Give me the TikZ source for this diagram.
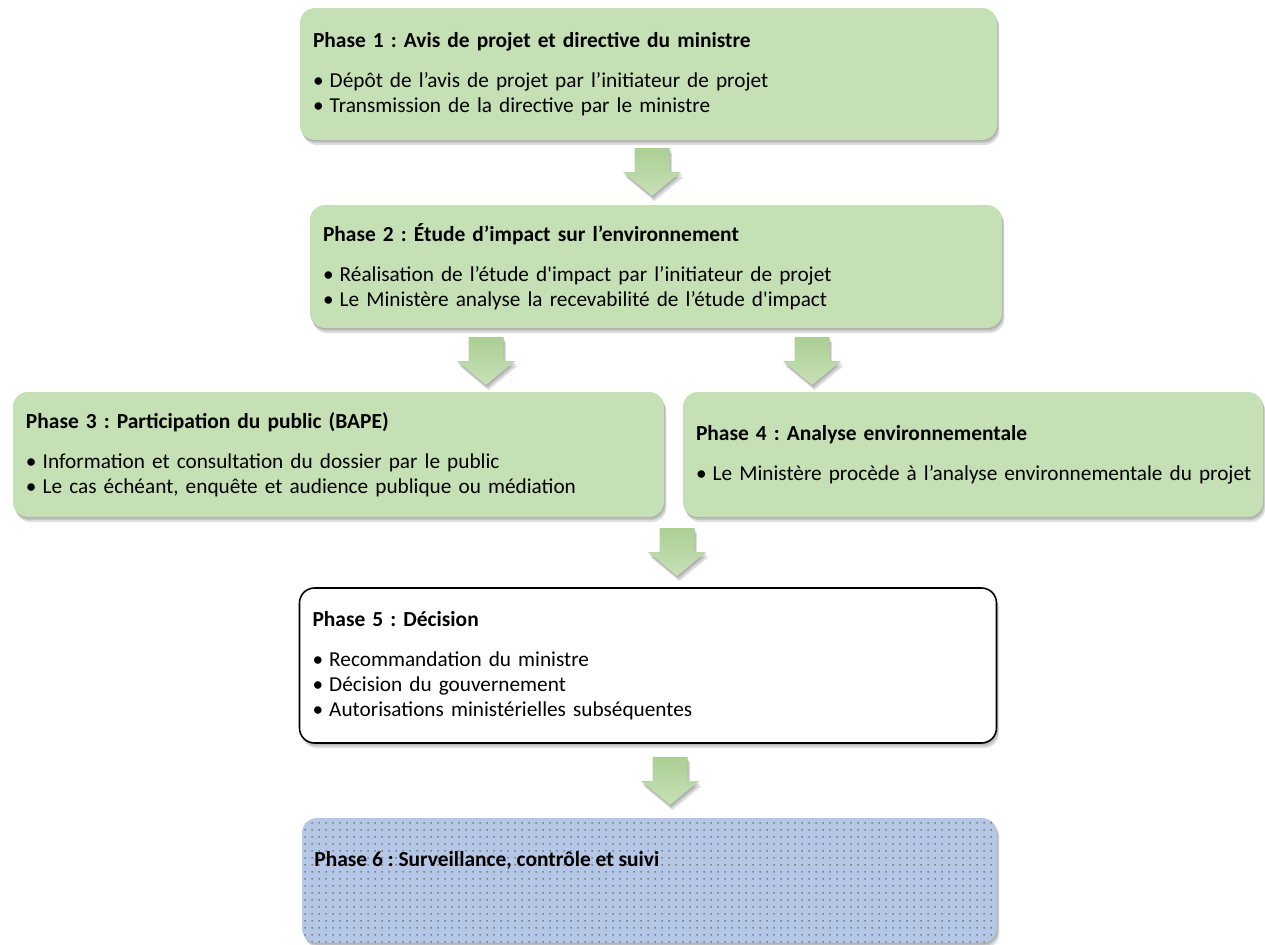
\documentclass[tikz,border=0pt]{standalone}
\usepackage{fontspec}
\newfontfamily\calibri{Carlito}
\usetikzlibrary{shadows,patterns}
\frenchspacing

\definecolor{phasegreen}{HTML}{C5E0B4}
\definecolor{phaseblue}{HTML}{B4C7E7}
\definecolor{arrowtop}{HTML}{ABCF93}
\definecolor{arrowbot}{HTML}{C8E0B8}

\pgfdeclarepatternformonly{sparsedots}{\pgfpointorigin}{\pgfqpoint{4pt}{4pt}}{\pgfqpoint{4pt}{4pt}}
  {\pgfpathrectangle{\pgfqpoint{1.5pt}{1.5pt}}{\pgfqpoint{1pt}{1pt}}\pgfusepath{fill}}

\newcommand{\phasepad}{0.26cm}
\newcommand{\bul}{\textbullet\hspace{3.5pt}}
\newcommand{\phasetitle}[1]{{\fontsize{12.2}{15}\selectfont\bfseries #1}\\[8.5pt]}
% block arrow, #1 = top middle point
\newcommand{\blockarrow}[1]{\path[arrowfill] (#1) ++(-0.35,0) -- ++(0.7,0) -- ++(0,-0.48)
  -- ++(0.23,0) -- ++(-0.58,-0.48) -- ++(-0.58,0.48) -- ++(0.23,0) -- cycle;}

\tikzset{
  softshadow/.style={
    drop shadow={shadow xshift=0.4pt, shadow yshift=-0.8pt, opacity=0.12, fill=black},
    drop shadow={shadow xshift=0.9pt, shadow yshift=-1.8pt, opacity=0.12, fill=black},
    drop shadow={shadow xshift=1.4pt, shadow yshift=-2.9pt, opacity=0.12, fill=black}},
  phasebox/.style={rounded corners=0.3cm, inner xsep=\phasepad, inner ysep=0pt,
    align=left, font=\calibri\fontsize{12.1}{14.2}\selectfont, softshadow},
  greenbox/.style={phasebox, fill=phasegreen},
  whitebox/.style={phasebox, fill=white, draw=black, line width=0.9pt},
  bluebox/.style={phasebox, fill=phaseblue,
    postaction={pattern=sparsedots, pattern color=black!50}},
  arrowfill/.style={top color=arrowtop, bottom color=arrowbot, softshadow},
}

\begin{document}
\begin{tikzpicture}
\useasboundingbox (0,0) rectangle (25.3,-18.9);

% Phase 1
\node[greenbox, text width=13.42cm, minimum height=2.64cm] (p1) at (12.97,-1.48)
  {\phasetitle{Phase 1 : Avis de projet et directive du ministre}
   \bul Dépôt de l’avis de projet par l’initiateur de projet\\
   \bul Transmission de la directive par le ministre};

% Phase 2
\node[greenbox, text width=13.32cm, minimum height=2.46cm] (p2) at (13.12,-5.33)
  {\phasetitle{Phase 2 : Étude d’impact sur l’environnement}
   \bul Réalisation de l’étude d'impact par l’initiateur de projet\\
   \bul Le Ministère analyse la recevabilité de l’étude d'impact};

% Phase 3 and 4 side by side
\node[greenbox, text width=12.5cm, minimum height=2.5cm] (p3) at (6.77,-9.09)
  {\phasetitle{Phase 3 : Participation du public (BAPE)}
   \bul Information et consultation du dossier par le public\\
   \bul Le cas échéant, enquête et audience publique ou médiation};
\node[greenbox, text width=11.08cm, minimum height=2.5cm] (p4) at (19.46,-9.09)
  {\phasetitle{Phase 4 : Analyse environnementale}
   \mbox{\bul Le Ministère procède à l’analyse environnementale du projet}};

% Phase 5
\node[whitebox, text width=13.42cm, minimum height=3.1cm] (p5) at (12.96,-13.31)
  {\phasetitle{Phase 5 : Décision}
   \bul Recommandation du ministre\\
   \bul Décision du gouvernement\\
   \bul Autorisations ministérielles subséquentes};

% Phase 6
\node[bluebox, minimum width=13.9cm, minimum height=2.5cm] (p6) at (12.99,-17.61) {};
\node[anchor=west, inner sep=0pt, font=\calibri\fontsize{12.2}{15}\selectfont\bfseries]
  (p6title) at (6.28,-17.2) {Phase 6 : Surveillance, contrôle et suivi};

% Draw the arrows between phases
\coordinate (a1) at (13.04,-2.96);
\coordinate (a2) at (9.72,-6.74);
\coordinate (a3) at (16.24,-6.74);
\coordinate (a4) at (13.54,-10.56);
\coordinate (a5) at (13.40,-15.14);
\foreach \a in {a1,a2,a3,a4,a5} {\blockarrow{\a}}
\end{tikzpicture}
\end{document}
